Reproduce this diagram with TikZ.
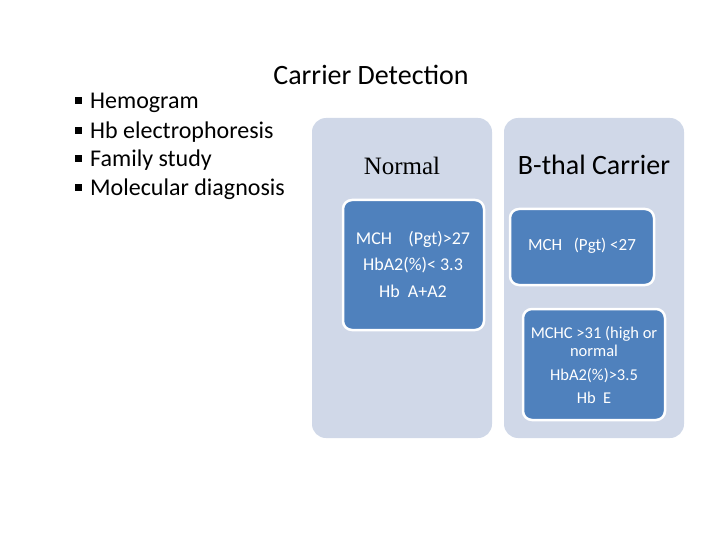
\documentclass[tikz,border=0pt]{standalone}
\usepackage{fontspec}
\setmainfont{Carlito}
\newfontfamily\headserif{Liberation Serif}
\usetikzlibrary{positioning}

\definecolor{panelgrey}{RGB}{208,216,232}
\definecolor{boxblue}{RGB}{79,129,189}

\tikzset{
  panel/.style={fill=panelgrey,rounded corners=14pt},
  infobox/.style={fill=boxblue,draw=white,line width=2.5pt,rounded corners=9pt},
  infotext/.style={text=white,align=center,font=\fontsize{17}{26.5}\selectfont},
  listitem/.style={anchor=west,inner sep=0pt,font=\fontsize{24}{28}\selectfont}
}

\begin{document}
\begin{tikzpicture}[x=1pt,y=-1pt]
  \useasboundingbox (0,0) rectangle (720,540);
  % title and list of methods
  \node (title) at (371,75) {\fontsize{28}{32}\selectfont Carrier Detection};
  \foreach \t [count=\i] in {Hemogram,Hb electrophoresis,Family study,Molecular diagnosis}
    \node[listitem] (item\i) at (75,{103+28.7*(\i-1)}) {\rule[4.5pt]{7pt}{7pt}\hspace{8pt}\t};
  % two grey panels
  \fill[panel] (312,118) rectangle (492,438);
  \fill[panel] (504,118) rectangle (684,438);
  \node (normal) at (402,166) {\headserif\fontsize{25}{28}\selectfont Normal};
  \node (carrier) at (594,165) {\fontsize{28}{32}\selectfont B-thal Carrier};
  % Normal: blue box
  \draw[infobox] (343,200) rectangle (484,330);
  \node[infotext,font=\fontsize{18}{26.5}\selectfont] (normvals) at (413,264)
    {MCH\ \ \ \ (Pgt)>27\\HbA2(\%)< 3.3\\Hb\ \ A+A2};
  % carrier: two blue boxes
  \draw[infobox] (510,209) rectangle (654,285);
  \node[infotext] (carmch) at (582,246) {MCH\ \ \ (Pgt) <27};
  \draw[infobox] (523,309) rectangle (665,420);
  \node[infotext,font=\fontsize{16.5}{23.5}\selectfont] (carvals) at (594,365)
    {MCHC >31 (high or\\[-5pt]normal\\HbA2(\%)>3.5\\Hb\ \ E};
\end{tikzpicture}
\end{document}
